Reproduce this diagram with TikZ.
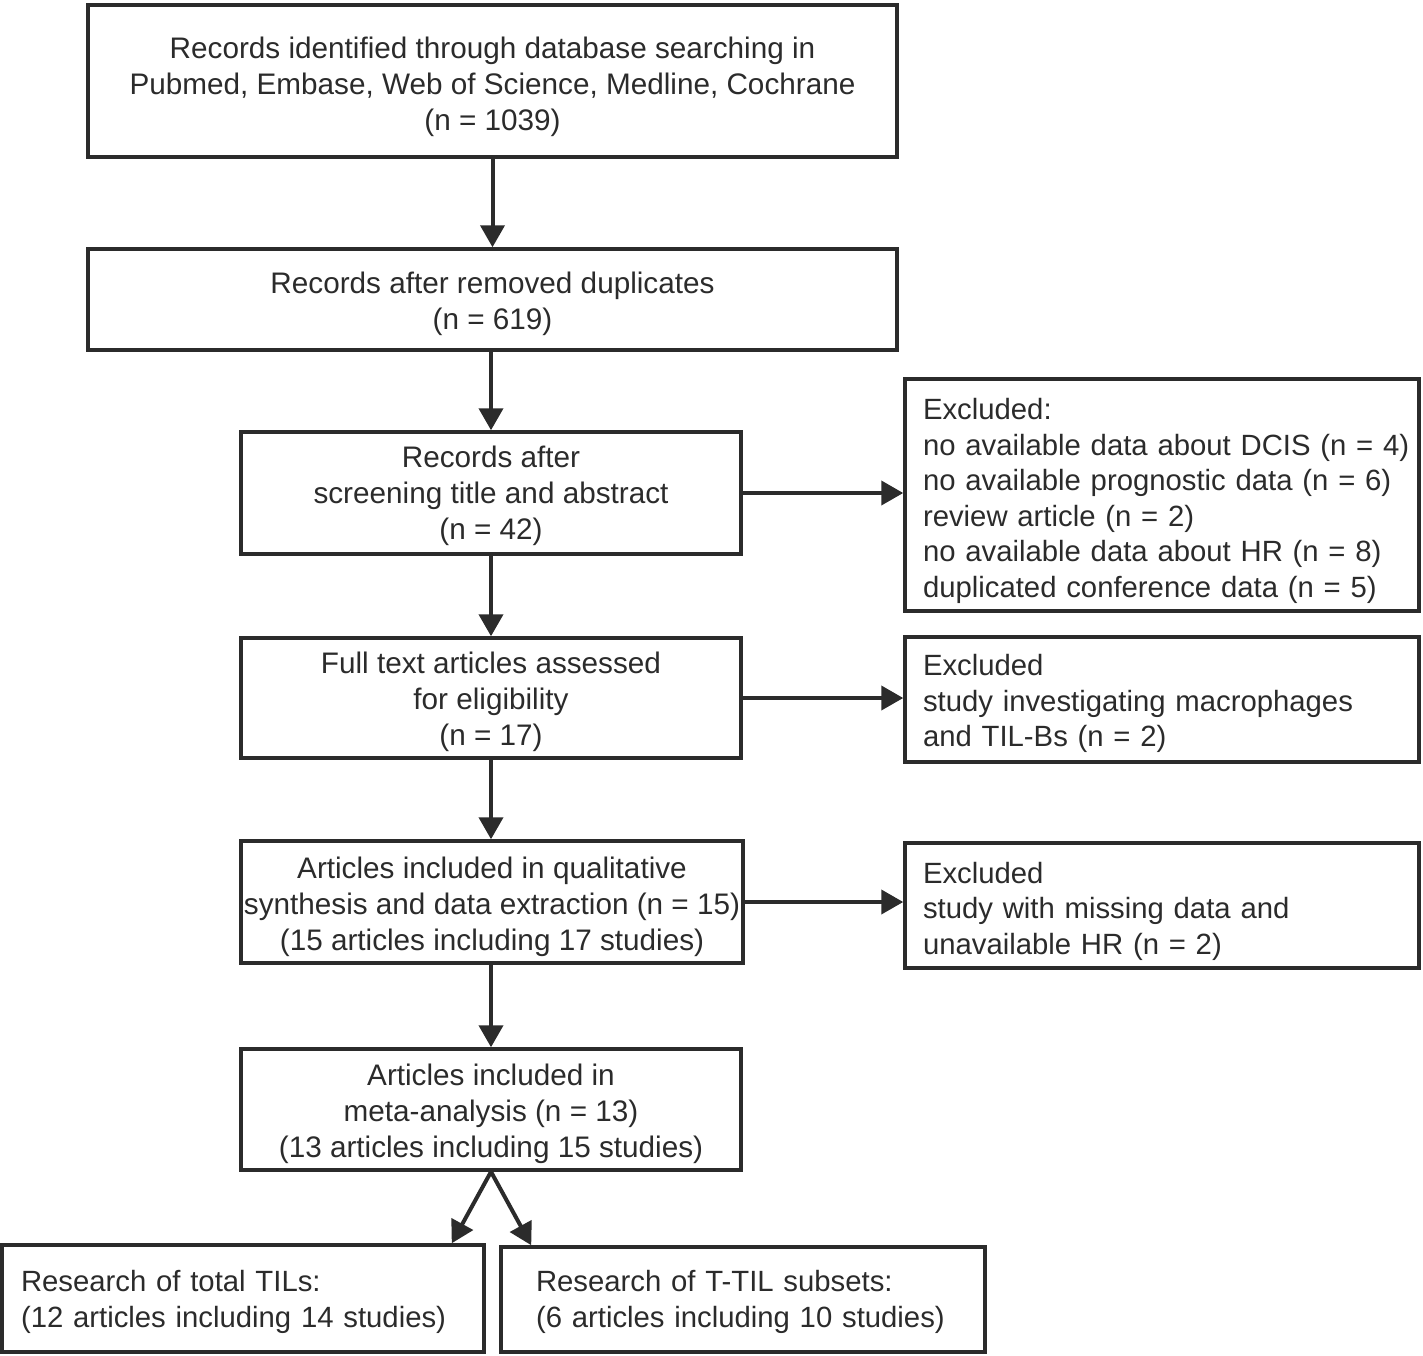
\documentclass[tikz,border=0pt]{standalone}
\usepackage{fontspec}
\setmainfont{Liberation Sans}
\usetikzlibrary{arrows.meta,calc}
\definecolor{ink}{HTML}{2B2B2B}
\newcommand\firstlift[1]{\rule{0pt}{#1pt}}
\begin{document}
\begin{tikzpicture}[x=1pt,y=-1pt,
  frame/.style={draw=ink, line width=3.5pt, inner sep=0pt, text=ink},
  box/.style={frame, align=center, font=\fontsize{29.7}{35.8}\selectfont, text depth=0pt},
  leftbox/.style={frame, align=left, font=\fontsize{29.3}{35.6}\selectfont},
  lbox/.style={leftbox, inner xsep=18pt, text width=478pt, minimum width=514pt},
  arr/.style={draw=ink, line width=4pt, -{Triangle[width=24pt,length=22pt]}}]
\useasboundingbox (0,0) rectangle (1423,1355);

\node[box, minimum width=809pt, minimum height=152pt] (b1) at (492.5,81)
  {\firstlift{27}Records identified through database searching in\\Pubmed, Embase, Web of Science, Medline, Cochrane\\(n = 1039)};
\node[box, minimum width=809pt, minimum height=101pt] (b2) at (492.5,299.5)
  {\firstlift{23.5}Records after removed duplicates\\(n = 619)};
\node[box, minimum width=500pt, minimum height=122pt] (b3) at (491,493)
  {Records after\\screening title and abstract\\(n = 42)};
\node[lbox, minimum height=232pt] (e1) at (1162,495)
  {\firstlift{33}Excluded:\\\mbox{no available data about DCIS (n = 4)}\\\mbox{no available prognostic data (n = 6)}\\review article (n = 2)\\\mbox{no available data about HR (n = 8)}\\\mbox{duplicated conference data (n = 5)}};
\node[box, minimum width=500pt, minimum height=120pt] (b4) at (491,698)
  {\firstlift{23.5}Full text articles assessed\\for eligibility\\(n = 17)};
\node[lbox, minimum height=125pt] (e2) at (1162,699.5)
  {\firstlift{29.5}Excluded\\\mbox{study investigating macrophages}\\and TIL-Bs (n = 2)};
\node[box, minimum width=502pt, minimum height=122pt] (b5) at (492,902)
  {\firstlift{24.5}Articles included in qualitative\\synthesis and data extraction (n = 15)\\(15 articles including 17 studies)};
\node[lbox, minimum height=125pt] (e3) at (1162,905.5)
  {\firstlift{32.5}Excluded\\study with missing data and\\unavailable HR (n = 2)};
\node[box, minimum width=500pt, minimum height=121pt] (b6) at (491,1109.5)
  {\firstlift{24.5}Articles included in\\meta-analysis (n = 13)\\(13 articles including 15 studies)};
\node[leftbox, inner xsep=19pt, text width=444pt, minimum height=107pt] (bl) at (243,1298.5)
  {\firstlift{27.5}Research of total TILs:\\\mbox{(12 articles including 14 studies)}};
\node[leftbox, inner xsep=35pt, text width=414pt, minimum height=105pt] (br) at (743,1299.5)
  {\firstlift{25.5}Research of T-TIL subsets:\\\mbox{(6 articles including 10 studies)}};

\draw[arr] (b1.south) -- (b2.north);
\draw[arr] (b3.north |- b2.south) -- (b3.north);
\draw[arr] (b3.south) -- (b4.north);
\draw[arr] (b4.south) -- (b4.south |- b5.north);
\draw[arr] (b5.south -| b6.north) -- (b6.north);
\draw[arr] (b3.east) -- (b3.east -| e1.west);
\draw[arr] (b4.east) -- (b4.east -| e2.west);
\draw[arr] (b5.east) -- (b5.east -| e3.west);
\draw[arr] (b6.south) -- ($(bl.north east)+(-34,0)$);
\draw[arr] (b6.south) -- ($(br.north west)+(32,0)$);
\end{tikzpicture}
\end{document}
